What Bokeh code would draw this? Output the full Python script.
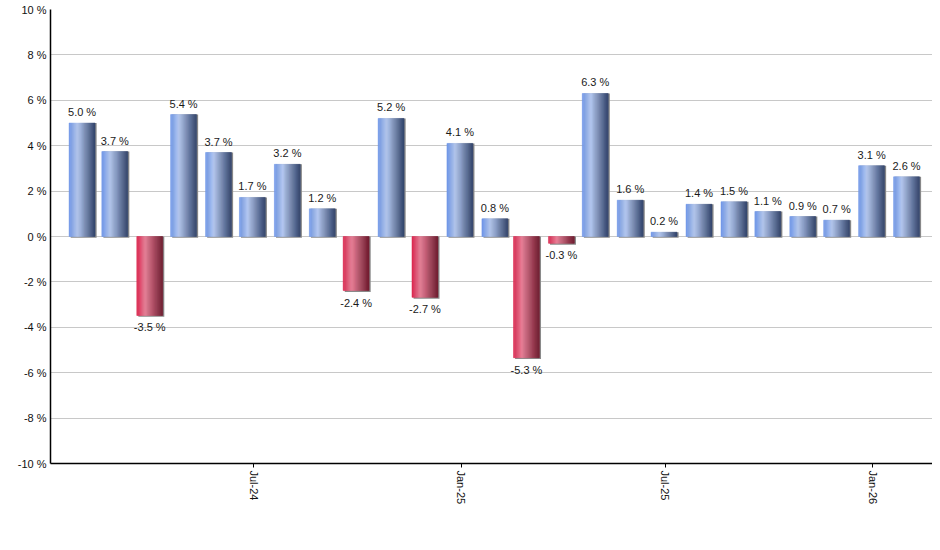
import pandas as pd

from bokeh.core.properties import value
from bokeh.embed import file_html
from bokeh.models import ColumnDataSource, FixedTicker, Range1d
from bokeh.plotting import figure
from bokeh.resources import INLINE

# month-end dates of the monthly returns, Jan-2024 .. Jan-2026
months = pd.date_range("2024-01-31", periods=25, freq="ME")
returns = [5.0, 3.74, -3.48, 5.37, 3.70, 1.72, 3.18, 1.22, -2.38, 5.20, -2.68, 4.10, 0.78,
           -5.34, -0.30, 6.30, 1.60, 0.19, 1.42, 1.53, 1.10, 0.88, 0.72, 3.12, 2.63]

y_ticks = [-10, -8, -6, -4, -2, 0, 2, 4, 6, 8, 10]
x_tick_dates = ["2024-07-01", "2025-01-01", "2025-07-01", "2026-01-01"]
x_tick_labels = ["Jul-24", "Jan-25", "Jul-25", "Jan-26"]

DAY = 86400000.0
FONT = "Liberation Sans"

# gradient stops (position, rgb) for up / down bars
BLUE = [(0.0, (108, 148, 230)), (0.33, (182, 202, 242)), (1.0, (50, 68, 108))]
RED = [(0.0, (218, 36, 76)), (0.33, (234, 128, 152)), (1.0, (112, 26, 46))]


def ms(d):
    return pd.Timestamp(d).timestamp() * 1000.0


def grad(stops, t):
    for (p0, c0), (p1, c1) in zip(stops, stops[1:]):
        if t <= p1:
            f = (t - p0) / (p1 - p0)
            rgb = [round(a + (b - a) * f) for a, b in zip(c0, c1)]
            return "#%02x%02x%02x" % tuple(rgb)
    return "#%02x%02x%02x" % stops[-1][1]


bar_w = 23 * DAY
n_slices = 24
slice_w = bar_w / n_slices

xs = [ms(d) for d in months]

# shadow behind bars
shadow = ColumnDataSource(dict(
    x=[x + 1.4 * DAY for x in xs],
    top=[v if v > 0 else 0 for v in returns],
    bottom=[-0.06 if v > 0 else v - 0.06 for v in returns],
))

sx, stop, sbot, scol = [], [], [], []
for x, v in zip(xs, returns):
    stops = BLUE if v >= 0 else RED
    for k in range(n_slices):
        t = (k + 0.5) / n_slices
        sx.append(x - bar_w / 2 + (k + 0.5) * slice_w)
        stop.append(max(v, 0))
        sbot.append(min(v, 0))
        scol.append(grad(stops, t))
slices = ColumnDataSource(dict(x=sx, top=stop, bottom=sbot, color=scol))

pos = [(x, v) for x, v in zip(xs, returns) if v >= 0]
neg = [(x, v) for x, v in zip(xs, returns) if v < 0]
pos_src = ColumnDataSource(dict(x=[a for a, _ in pos], y=[b for _, b in pos],
                                t=["%.1f %%" % b for _, b in pos]))
neg_src = ColumnDataSource(dict(x=[a for a, _ in neg], y=[b for _, b in neg],
                                t=["%.1f %%" % b for _, b in neg]))

p = figure(
    width=932, height=542,
    x_axis_type="datetime",
    x_range=Range1d(ms("2024-01-03"), ms("2026-02-23")),
    y_range=Range1d(-10, 10),
    toolbar_location=None,
    output_backend="svg",
    min_border_left=50, min_border_right=0, min_border_top=9, min_border_bottom=79,
)
p.outline_line_color = None
p.background_fill_color = "white"

p.vbar(x="x", top="top", bottom="bottom", width=bar_w, source=shadow,
       fill_color="#8a8a8a", line_color=None)
p.vbar(x="x", top="top", bottom="bottom", width=slice_w, source=slices,
       fill_color="color", line_color="color", line_width=0.5)

p.text(x="x", y="y", text="t", source=pos_src, text_align="center", text_baseline="bottom",
       y_offset=-5, text_font=value(FONT), text_font_size="11px", text_color="#1a1a1a")
p.text(x="x", y="y", text="t", source=neg_src, text_align="center", text_baseline="top",
       y_offset=6, text_font=value(FONT), text_font_size="11px", text_color="#1a1a1a")

p.xgrid.grid_line_color = None
p.ygrid.grid_line_color = "#c8c8c8"
p.ygrid.ticker = FixedTicker(ticks=y_ticks)

p.yaxis.ticker = FixedTicker(ticks=y_ticks)
p.yaxis.major_label_overrides = {t: "%d %%" % t for t in y_ticks}
p.yaxis.major_tick_out = 0
p.yaxis.major_tick_in = 0
p.yaxis.minor_tick_line_color = None
p.yaxis.major_label_standoff = 4

tick_ms = [ms(d) for d in x_tick_dates]
p.xaxis.ticker = FixedTicker(ticks=tick_ms)
p.xaxis.major_label_overrides = dict(zip(tick_ms, x_tick_labels))
p.xaxis.major_label_orientation = "vertical"
p.xaxis.major_tick_out = 4
p.xaxis.major_tick_in = 0
p.xaxis.minor_tick_line_color = None
p.xaxis.major_label_standoff = 3

for ax in (p.xaxis, p.yaxis):
    ax.axis_line_color = "black"
    ax.axis_line_width = 1.5
    ax.major_tick_line_color = "black"
    ax.major_label_text_font = FONT
    ax.major_label_text_font_size = "11px"
    ax.major_label_text_color = "#111111"

open("out.html", "w").write(file_html(p, INLINE))
